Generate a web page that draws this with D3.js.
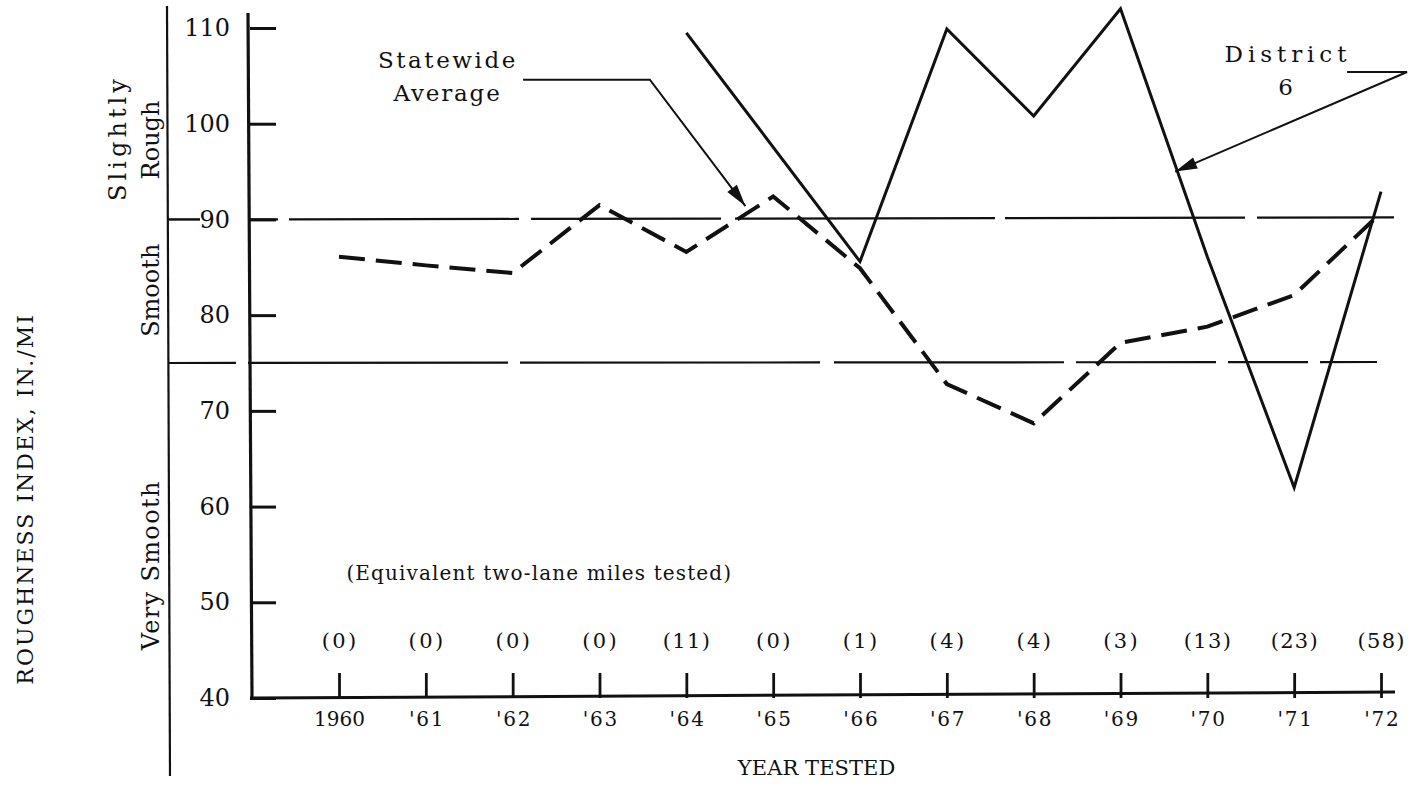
<!DOCTYPE html>
<html>
<head>
<meta charset="utf-8">
<script src="https://cdn.jsdelivr.net/npm/d3@7"></script>
<style>
  body { margin: 0; background: #fff; }
  text { font-family: "DejaVu Serif", "Liberation Serif", serif; fill: #111; }
</style>
</head>
<body>
<div id="chart"></div>
<script>
const years = [1960, 1961, 1962, 1963, 1964, 1965, 1966, 1967, 1968, 1969, 1970, 1971, 1972];
const yearLabels = ["1960", "'61", "'62", "'63", "'64", "'65", "'66", "'67", "'68", "'69", "'70", "'71", "'72"];
const milesTested = [0, 0, 0, 0, 11, 0, 1, 4, 4, 3, 13, 23, 58];
const statewideAvg = [86.1, 85.2, 84.4, 91.5, 86.6, 92.4, 84.9, 72.8, 68.7, 77.1, 78.8, 82.1, 90.7];
const district6 = [null, null, null, null, 109.5, null, 85.6, 109.9, 100.8, 112.0, 86.1, 62.0, 92.9];
const roughnessTicks = [40, 50, 60, 70, 80, 90, 100, 110];
const bandLimits = [75, 90];

// typewriter look: spread labels out to a constant pitch (never squeeze)
function pitch(sel, p) {
    sel.each(function () {
        const target = this.textContent.length * p - 3;
        if (this.getComputedTextLength() < target) {
            d3.select(this)
                .attr("textLength", target)
                .attr("lengthAdjust", "spacing");
        }
    });
}

function drawChart() {
    const width = 1419, height = 793;

    const svg = d3.select("#chart")
        .append("svg")
        .attr("width", width)
        .attr("height", height)
        .style("display", "block");

    const x = d3.scaleLinear().domain([1960, 1972]).range([339, 1381]);
    const y = d3.scaleLinear().domain([40, 110]).range([698, 28]);

    const axisX = 250;
    const outerX = 168;

    // outer axis with roughness bands
    svg.append("line")
        .attr("x1", outerX - 1).attr("y1", 6)
        .attr("x2", outerX + 2).attr("y2", 776)
        .attr("stroke", "#111").attr("stroke-width", 2.2);

    svg.append("line")
        .attr("x1", outerX).attr("x2", 200)
        .attr("y1", y(90)).attr("y2", y(90))
        .attr("stroke", "#111").attr("stroke-width", 2.5);

    // band limit lines (long dash)
    svg.append("line")
        .attr("x1", axisX).attr("x2", x(1972) + 13)
        .attr("y1", y(bandLimits[1])).attr("y2", y(bandLimits[1]) - 2)
        .attr("stroke", "#111").attr("stroke-width", 2.2)
        .attr("stroke-dasharray", "28,11,230,12,190,14,260,10,240,12,300");

    svg.append("line")
        .attr("x1", outerX).attr("x2", x(1972) - 4)
        .attr("y1", y(bandLimits[0])).attr("y2", y(bandLimits[0]) - 1)
        .attr("stroke", "#111").attr("stroke-width", 2.2)
        .attr("stroke-dasharray", "68,12,260,12,300,14,230,12,140,12,80,12,60");

    const bandLabels = [
        { lines: ["Slightly", "Rough"], v: 98.3 },
        { lines: ["Smooth"], v: 82.6 },
        { lines: ["Very Smooth"], v: 53.8 }
    ];

    bandLabels.forEach(b => {
        const t = svg.append("text")
            .attr("transform", `translate(${b.lines.length > 1 ? 130 : 151},${y(b.v)}) rotate(-90)`)
            .attr("text-anchor", "middle")
            .style("font-size", "24px");
        b.lines.forEach((l, i) => {
            t.append("tspan")
                .attr("x", 0)
                .attr("dy", i === 0 ? (b.lines.length > 1 ? "-0.15em" : "0.35em") : "1.35em")
                .text(l)
                .call(pitch, 15.6);
        });
    });

    svg.append("text")
        .attr("transform", `translate(25,${y(60.7)}) rotate(-90)`)
        .attr("text-anchor", "middle")
        .attr("dy", "0.35em")
        .style("font-size", "22px")
        .text("ROUGHNESS INDEX, IN./MI")
        .call(pitch, 16.2);

    // y axis
    const yAxis = d3.axisLeft(y)
        .tickValues(roughnessTicks)
        .tickSizeInner(-26)
        .tickSizeOuter(0)
        .tickPadding(20)
        .tickFormat(d3.format("d"));

    const yG = svg.append("g")
        .attr("transform", `translate(${axisX},0)`)
        .call(yAxis);
    yG.select(".domain").remove();
    yG.selectAll(".tick line").attr("stroke", "#111").attr("stroke-width", 3);
    yG.selectAll(".tick text")
        .style("font-size", "24px")
        .attr("fill", "#111")
        .call(pitch, 15.5);

    svg.append("line")
        .attr("x1", axisX - 2).attr("y1", 13)
        .attr("x2", axisX + 2).attr("y2", y(40))
        .attr("stroke", "#111").attr("stroke-width", 3.2);

    // x axis
    const xAxis = d3.axisBottom(x)
        .tickValues(years)
        .tickSizeInner(-25)
        .tickSizeOuter(0)
        .tickPadding(14)
        .tickFormat((d, i) => yearLabels[i]);

    const xG = svg.append("g")
        .attr("transform", `translate(0,${y(40)})`)
        .call(xAxis);
    xG.select(".domain").remove();
    xG.selectAll(".tick line").attr("stroke", "#111").attr("stroke-width", 2.8);
    xG.selectAll(".tick text")
        .style("font-size", "20px")
        .attr("fill", "#111")
        .call(pitch, 12.5);

    svg.append("line")
        .attr("x1", axisX).attr("x2", x(1972) + 14)
        .attr("y1", y(40)).attr("y2", y(40) - 6)
        .attr("stroke", "#111").attr("stroke-width", 3);

    // miles tested
    svg.append("g")
        .selectAll("text")
        .data(years)
        .enter()
        .append("text")
        .attr("x", d => x(d))
        .attr("y", y(40) - 50)
        .attr("text-anchor", "middle")
        .style("font-size", "21px")
        .text((d, i) => `(${milesTested[i]})`)
        .call(pitch, 12.5);

    svg.append("text")
        .attr("x", x(1962.3))
        .attr("y", y(52.3))
        .attr("text-anchor", "middle")
        .style("font-size", "20px")
        .text("(Equivalent two-lane miles tested)")
        .call(pitch, 11.4);

    svg.append("text")
        .attr("x", x(1965.5))
        .attr("y", 775)
        .attr("text-anchor", "middle")
        .style("font-size", "21px")
        .text("YEAR TESTED")
        .call(pitch, 14.6);

    // series
    const line = d3.line()
        .x(d => x(d.year))
        .y(d => y(d.value));

    const stateData = years.map((yr, i) => ({ year: yr, value: statewideAvg[i] }));
    const distData = years.map((yr, i) => ({ year: yr, value: district6[i] }))
        .filter(d => d.value !== null);

    svg.append("path")
        .attr("d", line(stateData))
        .attr("fill", "none")
        .attr("stroke", "#111")
        .attr("stroke-width", 4)
        .attr("stroke-dasharray", "26,11");

    svg.append("path")
        .attr("d", line(distData))
        .attr("fill", "none")
        .attr("stroke", "#111")
        .attr("stroke-width", 3)
        .attr("stroke-linejoin", "miter");

    // annotations
    function arrowHead(tip, from, len, half) {
        const dx = tip[0] - from[0], dy = tip[1] - from[1];
        const d = Math.hypot(dx, dy);
        const ux = dx / d, uy = dy / d;
        const bx = tip[0] - ux * len, by = tip[1] - uy * len;
        return [tip, [bx - uy * half, by + ux * half], [bx + uy * half, by - ux * half]];
    }

    const annotations = [
        { label: ["Statewide", "Average"], labelAt: [1961.24, 105.8],
          start: [1962.12, 104.6], elbow: [1963.58, 104.6], tip: [1964.68, 91.4] },
        { label: ["District", "6"], labelAt: [1970.9, 106.5],
          start: [1971.61, 105.4], elbow: [1972.3, 105.4], tip: [1969.63, 95.0] }
    ];

    annotations.forEach(a => {
        const p0 = [x(a.start[0]), y(a.start[1])];
        const p1 = [x(a.elbow[0]), y(a.elbow[1])];
        const p2 = [x(a.tip[0]), y(a.tip[1])];
        svg.append("path")
            .attr("d", d3.line()([p0, p1, p2]))
            .attr("fill", "none")
            .attr("stroke", "#111")
            .attr("stroke-width", 2);
        svg.append("path")
            .attr("d", d3.line()(arrowHead(p2, p1, 22, 6)) + "Z")
            .attr("fill", "#111");

        const t = svg.append("text")
            .attr("text-anchor", "middle")
            .style("font-size", "23px");
        a.label.forEach((l, i) => {
            t.append("tspan")
                .attr("x", x(a.labelAt[0]))
                .attr("y", y(a.labelAt[1]) + i * 33)
                .text(l)
                .call(pitch, 15.6);
        });
    });
}

window.addEventListener("load", drawChart);
</script>
</body>
</html>
